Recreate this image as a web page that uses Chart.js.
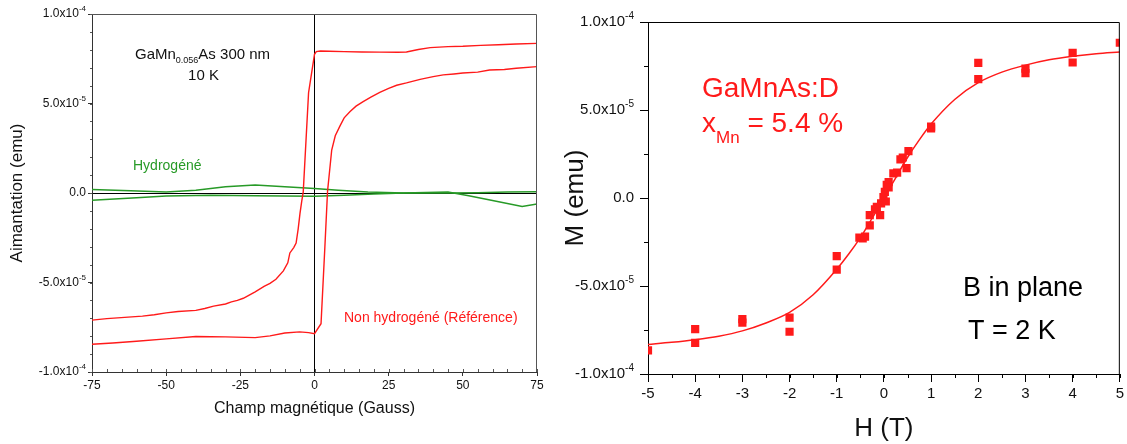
<!DOCTYPE html>
<html>
<head>
<meta charset="utf-8">
<script src="https://cdn.jsdelivr.net/npm/chart.js"></script>
<style>
body { margin: 0; background: #fff; width: 1127px; height: 444px; overflow: hidden; position: relative; }
#left { position: absolute; left: 0; top: 0; }
#right { position: absolute; left: 560px; top: 0; }
</style>
</head>
<body>
<canvas id="left" width="560" height="444"></canvas>
<canvas id="right" width="567" height="444"></canvas>
<script>
// ---- left panel: GaMn0.056As 300 nm, 10 K (field in Gauss, moment in emu)
var downH = [-75, -70, -64, -58, -54, -50, -46, -40, -37, -34, -30, -28, -26, -24, -22, -20, -17, -15, -13, -10.5, -9, -8.3, -7, -6.2, -5.5, -4.9, -4.3, -3.8, -2.0, 0, 0.6, 2, 5, 10, 16, 22, 28, 31, 35, 39, 45, 50, 56, 62, 68, 75];
var downM = [-7.10e-5, -7.02e-5, -6.95e-5, -6.88e-5, -6.80e-5, -6.70e-5, -6.62e-5, -6.56e-5, -6.45e-5, -6.32e-5, -6.20e-5, -6.08e-5, -6.00e-5, -5.88e-5, -5.70e-5, -5.52e-5, -5.22e-5, -5.05e-5, -4.82e-5, -4.35e-5, -3.90e-5, -3.35e-5, -3.05e-5, -2.80e-5, -2.00e-5, -1.15e-5, -0.45e-5, 0.05e-5, 5.60e-5, 7.75e-5, 7.90e-5, 7.93e-5, 7.92e-5, 7.90e-5, 7.88e-5, 7.87e-5, 7.86e-5, 7.88e-5, 8.02e-5, 8.12e-5, 8.18e-5, 8.20e-5, 8.25e-5, 8.28e-5, 8.32e-5, 8.36e-5];

var upH = [-75, -68, -60, -50, -40, -30, -20, -15, -10, -5, -2, 0, 2.2, 3.5, 4.4, 5.8, 7, 8.6, 10, 12, 14, 16.4, 19, 22, 25, 27.7, 31, 35.6, 40, 43.4, 47, 50, 55, 59, 64, 68, 75];
var upM = [-8.45e-5, -8.38e-5, -8.28e-5, -8.15e-5, -8.02e-5, -8.04e-5, -8.08e-5, -7.98e-5, -7.82e-5, -7.76e-5, -7.80e-5, -7.86e-5, -7.30e-5, -3.00e-5, 0.10e-5, 2.40e-5, 3.20e-5, 3.75e-5, 4.20e-5, 4.55e-5, 4.85e-5, 5.10e-5, 5.35e-5, 5.62e-5, 5.85e-5, 6.02e-5, 6.15e-5, 6.35e-5, 6.50e-5, 6.60e-5, 6.65e-5, 6.70e-5, 6.75e-5, 6.87e-5, 6.90e-5, 6.97e-5, 7.06e-5];

var hydroAH = [-75, -62, -50, -40, -30, -20, -10, 0, 8, 18, 30, 45, 52, 60, 70, 75];
var hydroAM = [0.20e-5, 0.12e-5, 0.05e-5, 0.15e-5, 0.35e-5, 0.45e-5, 0.35e-5, 0.25e-5, 0.15e-5, 0.05e-5, 0.0, 0.05e-5, -0.15e-5, -0.42e-5, -0.75e-5, -0.62e-5];
var hydroBH = [-75, -60, -50, -35, -20, 0, 10, 20, 30, 45, 55, 65, 75];
var hydroBM = [-0.40e-5, -0.27e-5, -0.17e-5, -0.12e-5, -0.15e-5, -0.18e-5, -0.12e-5, -0.05e-5, 0.0, 0.0, 0.02e-5, 0.05e-5, 0.07e-5];

// ---- right panel: GaMnAs:D, 2 K (field in tesla)
var pointsH = [-5, -4, -4, -3, -3, -2, -2, -1, -1, -0.52, -0.45, -0.4, -0.3, -0.3, -0.19, -0.15, -0.08, -0.06, -0.01, 0.02, 0.04, 0.06, 0.1, 0.1, 0.2, 0.28, 0.35, 0.4, 0.48, 0.52, 1, 1, 2, 2, 3, 3, 4, 4, 5];
var pointsM = [-8.66e-5, -7.45e-5, -8.23e-5, -6.88e-5, -7.08e-5, -6.80e-5, -7.60e-5, -3.30e-5, -4.07e-5, -2.25e-5, -2.30e-5, -2.20e-5, -1.55e-5, -0.97e-5, -0.65e-5, -0.50e-5, -0.97e-5, -0.30e-5, 0.05e-5, 0.35e-5, -0.20e-5, 0.74e-5, 0.90e-5, 0.60e-5, 1.40e-5, 1.44e-5, 2.20e-5, 2.30e-5, 1.70e-5, 2.66e-5, 3.95e-5, 4.05e-5, 6.75e-5, 7.68e-5, 7.10e-5, 7.35e-5, 7.70e-5, 8.25e-5, 8.82e-5];

var fitH = [-5, -4.5, -4, -3.5, -3, -2.5, -2, -1.5, -1, -0.75, -0.5, -0.25, 0, 0.25, 0.5, 0.75, 1, 1.5, 2, 2.5, 3, 3.5, 4, 4.5, 5];
var fitM = [-8.32e-5, -8.20e-5, -8.05e-5, -7.85e-5, -7.55e-5, -7.10e-5, -6.50e-5, -5.50e-5, -4.05e-5, -3.20e-5, -2.25e-5, -1.15e-5, 0, 1.15e-5, 2.30e-5, 3.30e-5, 4.20e-5, 5.60e-5, 6.55e-5, 7.15e-5, 7.55e-5, 7.85e-5, 8.05e-5, 8.20e-5, 8.30e-5];

// shared moment tick labels: base text and its exponent
var emuTickValues = [-1e-4, -5e-5, 0, 5e-5, 1e-4];
var emuTickBase = ['-1.0x10', '-5.0x10', '0.0', '5.0x10', '1.0x10'];
var emuTickExp = ['-4', '-5', '', '-5', '-4'];

var RED = '#ff1a1a';
var GREEN = '#279a27';
var F = '"Liberation Sans", Arial, sans-serif';

Chart.defaults.font.family = F;
Chart.defaults.color = '#111';

function pairs(xs, ys) {
    return xs.map(function (x, i) { return { x: x, y: ys[i] }; });
}

// box around the plot + small minor ticks
var framePlugin = {
    id: 'frame',
    afterDraw: function (chart, args, opts) {
        var ctx = chart.ctx, a = chart.chartArea;
        var sx = chart.scales.x, sy = chart.scales.y;
        ctx.save();
        ctx.strokeStyle = opts.color;
        ctx.lineWidth = 1;
        ctx.beginPath();
        ctx.moveTo(a.left, a.top + 0.5);
        ctx.lineTo(a.right - 0.5, a.top + 0.5);
        ctx.lineTo(a.right - 0.5, a.bottom);
        ctx.stroke();
        var v, p;
        for (v = sx.min; v <= sx.max + 1e-9; v += opts.xMinor) {
            p = Math.round(sx.getPixelForValue(v)) + 0.5;
            ctx.beginPath();
            ctx.moveTo(p, a.bottom);
            ctx.lineTo(p, a.bottom + opts.xLen);
            ctx.stroke();
        }
        for (v = sy.min; v <= sy.max + 1e-12; v += opts.yMinor) {
            p = Math.round(sy.getPixelForValue(v)) + 0.5;
            ctx.beginPath();
            ctx.moveTo(a.left, p);
            ctx.lineTo(a.left - opts.yLen, p);
            ctx.stroke();
        }

        // y tick labels with a raised exponent
        ctx.fillStyle = opts.labelColor;
        ctx.textBaseline = 'middle';
        ctx.textAlign = 'right';
        emuTickValues.forEach(function (val, i) {
            var py = sy.getPixelForValue(val);
            var right = a.left - opts.labelGap;
            if (emuTickExp[i]) {
                ctx.font = opts.expSize + 'px ' + F;
                ctx.fillText(emuTickExp[i], right, py - opts.expRise);
                right -= ctx.measureText(emuTickExp[i]).width;
            }
            ctx.font = opts.baseSize + 'px ' + F;
            ctx.fillText(emuTickBase[i], right, py);
        });
        ctx.restore();
    }
};

// free text written on the plot, each note is a run of pieces
var notesPlugin = {
    id: 'notes',
    afterDraw: function (chart, args, opts) {
        var ctx = chart.ctx;
        ctx.save();
        ctx.textBaseline = 'alphabetic';
        ctx.textAlign = 'left';
        opts.items.forEach(function (n) {
            ctx.fillStyle = n.color;
            var total = 0;
            n.parts.forEach(function (p) { ctx.font = p[1]; total += ctx.measureText(p[0]).width; });
            var x = n.center ? n.x - total / 2 : n.x;
            n.parts.forEach(function (p) {
                ctx.font = p[1];
                ctx.fillText(p[0], x, n.y + (p[2] || 0));
                x += ctx.measureText(p[0]).width;
            });
        });
        ctx.restore();
    }
};

new Chart(document.getElementById('left'), {
    type: 'scatter',
    data: {
        datasets: [
            { data: pairs(downH, downM), showLine: true, borderColor: RED, borderWidth: 1.4, pointRadius: 0 },
            { data: pairs(upH, upM), showLine: true, borderColor: RED, borderWidth: 1.4, pointRadius: 0 },
            { data: pairs(hydroAH, hydroAM), showLine: true, borderColor: GREEN, borderWidth: 1.5, pointRadius: 0 },
            { data: pairs(hydroBH, hydroBM), showLine: true, borderColor: GREEN, borderWidth: 1.5, pointRadius: 0 }
        ]
    },
    options: {
        responsive: false,
        animation: false,
        devicePixelRatio: 1,
        layout: { padding: { left: 0, top: 14, right: 23, bottom: 0 } },
        plugins: {
            legend: { display: false },
            tooltip: { enabled: false },
            frame: { color: '#555', xMinor: 5, xLen: -3, yMinor: 1e-5, yLen: 2,
                     labelColor: '#111', labelGap: 6, baseSize: 12, expSize: 8, expRise: 5 },
            notes: {
                items: [
                    { x: 135, y: 58.5, color: '#111', parts: [['GaMn', '15px ' + F], ['0.056', '9px ' + F, 4], ['As 300 nm', '15px ' + F]] },
                    { x: 203.5, y: 80, center: true, color: '#111', parts: [['10 K', '15px ' + F]] },
                    { x: 133, y: 169.5, color: GREEN, parts: [['Hydrogéné', '14px ' + F]] },
                    { x: 344, y: 322, color: RED, parts: [['Non hydrogéné (Référence)', '14px ' + F]] }
                ]
            }
        },
        scales: {
            x: {
                type: 'linear', min: -75, max: 75,
                afterFit: function (s) { s.height = 72; },
                ticks: { stepSize: 25, font: { size: 12 }, padding: 2, maxRotation: 0 },
                grid: {
                    tickLength: 4,
                    color: function (c) { return c.tick && c.tick.value === 0 ? '#000' : 'rgba(0,0,0,0)'; },
                    tickColor: '#333'
                },
                border: { color: '#333' },
                title: { display: true, text: 'Champ magnétique (Gauss)', font: { size: 16 }, padding: { top: 0, bottom: 26 } }
            },
            y: {
                type: 'linear', min: -1e-4, max: 1e-4,
                afterFit: function (s) { s.width = 92; },
                ticks: { stepSize: 5e-5, display: false },
                grid: {
                    tickLength: 4,
                    color: function (c) { return c.tick && Math.abs(c.tick.value) < 1e-12 ? '#000' : 'rgba(0,0,0,0)'; },
                    tickColor: '#333'
                },
                border: { color: '#333' },
                title: { display: true, text: 'Aimantation (emu)', font: { size: 17 }, padding: { top: 7, bottom: 0 } }
            }
        }
    },
    plugins: [framePlugin, notesPlugin]
});

new Chart(document.getElementById('right'), {
    type: 'scatter',
    data: {
        datasets: [
            { data: pairs(fitH, fitM), showLine: true, borderColor: RED, borderWidth: 1.5, pointRadius: 0, cubicInterpolationMode: 'monotone' },
            { data: pairs(pointsH, pointsM), pointStyle: 'rect', pointRadius: 5.8, pointBorderWidth: 0, backgroundColor: RED, clip: 0 }
        ]
    },
    options: {
        responsive: false,
        animation: false,
        devicePixelRatio: 1,
        layout: { padding: { left: 0, top: 22, right: 7, bottom: 0 } },
        plugins: {
            legend: { display: false },
            tooltip: { enabled: false },
            frame: { color: '#000', xMinor: 0.5, xLen: 4, yMinor: 2.5e-5, yLen: 4,
                     labelColor: '#111', labelGap: 14, baseSize: 15, expSize: 10, expRise: 6 },
            notes: {
                items: [
                    { x: 142, y: 97, color: RED, parts: [['GaMnAs:D', '28px ' + F]] },
                    { x: 142, y: 132, color: RED, parts: [['x', '28px ' + F], ['Mn', '17px ' + F, 11], [' = 5.4 %', '28px ' + F]] },
                    { x: 403, y: 296, color: '#000', parts: [['B in plane', '27px ' + F]] },
                    { x: 408, y: 339, color: '#000', parts: [['T = 2 K', '27px ' + F]] }
                ]
            }
        },
        scales: {
            x: {
                type: 'linear', min: -5, max: 5,
                afterFit: function (s) { s.height = 70; },
                ticks: { stepSize: 1, font: { size: 15 }, padding: 3, maxRotation: 0 },
                grid: { drawOnChartArea: false, tickLength: 8, tickColor: '#000' },
                border: { color: '#000' },
                title: { display: true, text: 'H (T)', font: { size: 26 }, padding: { top: 0, bottom: 0 } }
            },
            y: {
                type: 'linear', min: -1e-4, max: 1e-4,
                afterFit: function (s) { s.width = 88; },
                ticks: { stepSize: 5e-5, display: false },
                grid: { drawOnChartArea: false, tickLength: 8, tickColor: '#000' },
                border: { color: '#000' },
                title: { display: true, text: 'M (emu)', font: { size: 26 }, padding: { top: 0, bottom: 0 } }
            }
        }
    },
    plugins: [framePlugin, notesPlugin]
});
</script>
</body>
</html>
